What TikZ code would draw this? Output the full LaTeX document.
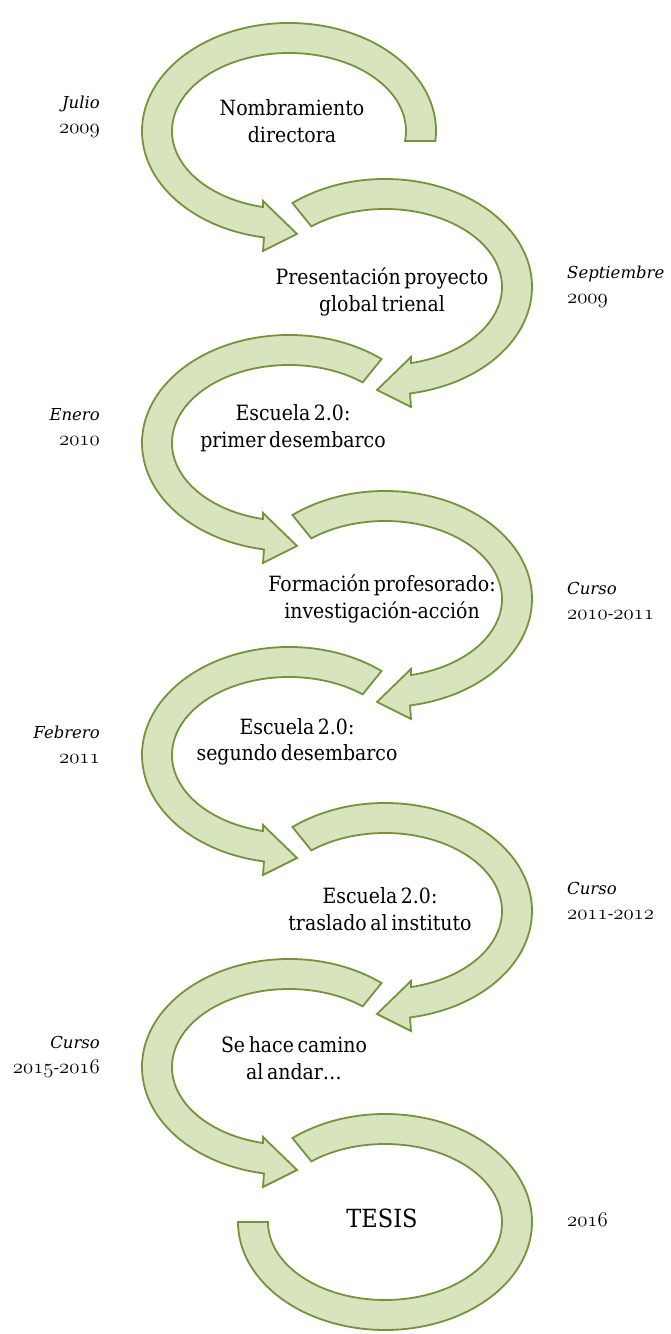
\documentclass[tikz,border=0pt]{standalone}
\usepackage{fontspec}
\usepackage{tikz}
\usetikzlibrary{positioning}
\newfontfamily\stagefont{DejaVu Serif}[FakeStretch=0.9,WordSpace=0.6]
\newfontfamily\datefont{DejaVu Serif}
\definecolor{bandfill}{HTML}{D7E4BD}
\definecolor{banddraw}{HTML}{76923C}
\newcommand\osf[1]{{\fontsize{21}{25}\usefont{OML}{cmm}{m}{it}#1}}

\begin{document}
\begin{tikzpicture}[x=1pt, y=1pt,
    band/.style={draw=banddraw, fill=bandfill, line width=1.8pt, line join=miter},
    stage/.style={font=\stagefont\fontsize{21}{26.5}\selectfont, align=center, inner sep=0pt},
    final/.style={font=\stagefont\fontsize{25}{28}\selectfont, inner sep=0pt},
    date/.style={font=\datefont\itshape\fontsize{16.5}{25}\selectfont, inner sep=0pt},
    pics/turn/.style 2 args={code={
        \draw[band] (#1:147 and 108) arc[start angle=#1, end angle=260.2, x radius=147, y radius=108]
            -- (-26,-120) -- (8,-103) -- (-26,-70)
            -- (257.2:117 and 78) arc[start angle=257.2, end angle=#2, x radius=117, y radius=78] -- cycle;
    }},
    pics/lastturn/.style={code={
        \draw[band] (51:147 and 108) arc[start angle=51, end angle=360, x radius=147, y radius=108]
            -- (0:117 and 78) arc[start angle=360, end angle=51, x radius=117, y radius=78] -- cycle;
    }}
]
    \fill[white] (0,0) rectangle (670,1334);
    \useasboundingbox (0,0) rectangle (670,1334);

    % Loop centres
    \coordinate (c1) at (289,1203);
    \coordinate (c2) at (385,1047);
    \coordinate (c3) at (289,891);
    \coordinate (c4) at (385,735);
    \coordinate (c5) at (289,579);
    \coordinate (c6) at (385,423);
    \coordinate (c7) at (289,267);
    \coordinate (c8) at (385,112);

    % Circular arrows
    \pic at (c1) {turn={-5.3}{-7.4}};
    \pic[xscale=-1] at (c2) {turn={51}{51}};
    \pic at (c3) {turn={51}{51}};
    \pic[xscale=-1] at (c4) {turn={51}{51}};
    \pic at (c5) {turn={51}{51}};
    \pic[xscale=-1] at (c6) {turn={51}{51}};
    \pic at (c7) {turn={51}{51}};
    \pic[xscale=-1] at (c8) {lastturn};

    % Stages
    \node[stage] (nombramiento) at (292,1213) {Nombramiento\\directora};
    \node[stage] (proyecto) at (382,1042) {Presentación proyecto\\global trienal};
    \node[stage] (primer) at (293,906) {Escuela 2.0:\\primer desembarco};
    \node[stage] (formacion) at (382,735) {Formación profesorado:\\investigación-acción};
    \node[stage] (segundo) at (297,592) {Escuela 2.0:\\segundo desembarco};
    \node[stage] (traslado) at (380,425) {Escuela 2.0:\\traslado al instituto};
    \node[stage] (camino) at (294,276) {Se hace camino\\al andar…};
    \node[final] (tesis) at (382,116) {TESIS};

    % Dates
    \node[date, anchor=east, align=right] (julio) at (100,1217) {Julio\\\osf{2009}};
    \node[date, anchor=west, align=left] (septiembre) at (567,1047) {Septiembre\\\osf{2009}};
    \node[date, anchor=east, align=right] (enero) at (100,907) {Enero\\\osf{2010}};
    \node[date, anchor=west, align=left] (curso1) at (567,733) {Curso\\\osf{2010}-\osf{2011}};
    \node[date, anchor=east, align=right] (febrero) at (100,589) {Febrero\\\osf{2011}};
    \node[date, anchor=west, align=left] (curso2) at (567,433) {Curso\\\osf{2011}-\osf{2012}};
    \node[date, anchor=east, align=right] (curso3) at (100,277) {Curso\\\osf{2015}-\osf{2016}};
    \node[date, anchor=west, align=left] (fin) at (567,114) {\osf{2016}};
\end{tikzpicture}
\end{document}
